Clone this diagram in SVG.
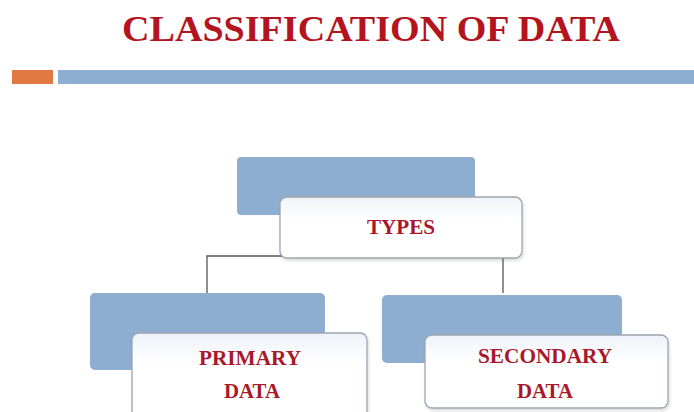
<svg xmlns="http://www.w3.org/2000/svg" width="694" height="412" viewBox="0 0 694 412">
<defs>
<linearGradient id="wg" x1="0" y1="0" x2="0" y2="1">
<stop offset="0" stop-color="#eef2f8"/>
<stop offset="0.35" stop-color="#ffffff"/>
<stop offset="1" stop-color="#ffffff"/>
</linearGradient>
<filter id="sh" x="-10%" y="-10%" width="130%" height="130%">
<feDropShadow dx="1" dy="2" stdDeviation="1.5" flood-color="#000" flood-opacity="0.15"/>
</filter>
</defs>
<style>
.title{font-family:"Liberation Serif","Times New Roman",serif;font-weight:bold;fill:#b3141d}
.lbl{font-family:"Liberation Serif","Times New Roman",serif;font-weight:bold;fill:#a8182a;text-anchor:middle}
.back{fill:#8eaed1}
.front{fill:url(#wg);stroke:#9ea6b0;stroke-width:1.3;filter:url(#sh)}
.conn{stroke:#555;stroke-width:1.3;fill:none}
</style>
<rect width="694" height="412" fill="#ffffff"/>
<text class="title" x="122" y="41" font-size="36" textLength="498" lengthAdjust="spacingAndGlyphs">CLASSIFICATION OF DATA</text>
<rect x="12" y="70" width="41" height="14" fill="#e07a42"/>
<rect x="58" y="70" width="636" height="14" fill="#8eaed1"/>
<g id="connectors">
<path class="conn" d="M207 293 V256 H503 V293"/>
</g>
<g id="types">
<rect class="back" x="237" y="157" width="238" height="58" rx="4"/>
<rect class="front" x="280" y="197" width="242" height="61" rx="7"/>
<text class="lbl" x="401" y="234" font-size="20" textLength="68" lengthAdjust="spacingAndGlyphs">TYPES</text>
</g>
<g id="primary">
<rect class="back" x="90" y="293" width="235" height="77" rx="5"/>
<rect class="front" x="132" y="333" width="235" height="90" rx="7"/>
<text class="lbl" x="250" y="365" font-size="20" textLength="102" lengthAdjust="spacingAndGlyphs">PRIMARY</text>
<text class="lbl" x="252" y="398" font-size="20" textLength="56" lengthAdjust="spacingAndGlyphs">DATA</text>
</g>
<g id="secondary">
<rect class="back" x="382" y="295" width="240" height="68" rx="5"/>
<rect class="front" x="425" y="335" width="243" height="73" rx="7"/>
<text class="lbl" x="545" y="363" font-size="20" textLength="134" lengthAdjust="spacingAndGlyphs">SECONDARY</text>
<text class="lbl" x="545" y="398" font-size="20" textLength="56" lengthAdjust="spacingAndGlyphs">DATA</text>
</g>
</svg>
